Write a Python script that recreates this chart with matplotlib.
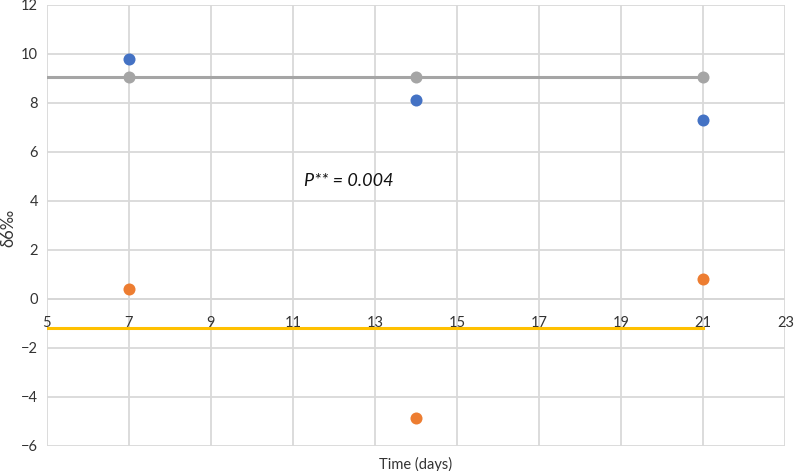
import matplotlib
matplotlib.use("Agg")
import matplotlib.pyplot as plt

plt.rcParams["font.family"] = ["Lato", "DejaVu Sans"]

# ----------------------------
# Data
# ----------------------------
days = [7, 14, 21]
blue_vals = [9.78, 8.12, 7.32]
orange_vals = [0.42, -4.85, 0.83]
gray_vals = [9.05, 9.05, 9.05]

gray_line_x = [5, 21]
gray_line_y = [9.05, 9.05]
yellow_line_x = [5, 21]
yellow_line_y = [-1.2, -1.2]

x_ticks = list(range(5, 24, 2))
y_ticks = list(range(-6, 13, 2))

BLUE = "#4472C4"
ORANGE = "#ED7D31"
GRAY = "#A5A5A5"
YELLOW = "#FFC000"
GRID = "#D9D9D9"

# ----------------------------
# Figure
# ----------------------------
fig = plt.figure(figsize=(7.94, 4.71), dpi=100)
ax = fig.add_axes([0.0586, 0.0531, 0.9305, 0.9363])

ax.set_xlim(5, 23)
ax.set_ylim(-6, 12)
ax.set_xticks(x_ticks)
ax.set_yticks(y_ticks)

ax.grid(True, color=GRID, linewidth=1.3, zorder=0)
ax.axhline(0, color="#BFBFBF", linewidth=1.3, zorder=1)
for s in ["top", "right", "left"]:
    ax.spines[s].set_visible(False)
ax.spines["bottom"].set_position(("data", 0))
ax.spines["bottom"].set_visible(False)

ax.tick_params(axis="both", length=0, labelsize=10.5, colors="#333333")
ax.tick_params(axis="x", pad=12)
ax.tick_params(axis="y", pad=6)

ax.plot(gray_line_x, gray_line_y, color=GRAY, linewidth=2.2, zorder=2)
ax.plot(yellow_line_x, yellow_line_y, color=YELLOW, linewidth=2.2, zorder=2)

ax.scatter(days, gray_vals, s=75, color=GRAY, zorder=3, linewidths=0)
ax.scatter(days, blue_vals, s=75, color=BLUE, zorder=3, linewidths=0)
ax.scatter(days, orange_vals, s=75, color=ORANGE, zorder=3, linewidths=0)

ax.text(11.27, 4.8, "P** = 0.004", fontsize=13, style="italic",
        ha="left", va="center", color="#111111")

ax.text(0.5, -0.025, "Time (days)", transform=ax.transAxes,
        ha="center", va="top", fontsize=10.5, color="#333333")
fig.text(0.011, 0.515, "δ6‰", rotation=90, ha="center", va="center",
         fontsize=12, color="#333333")

fig.savefig("out.png", dpi=100)
